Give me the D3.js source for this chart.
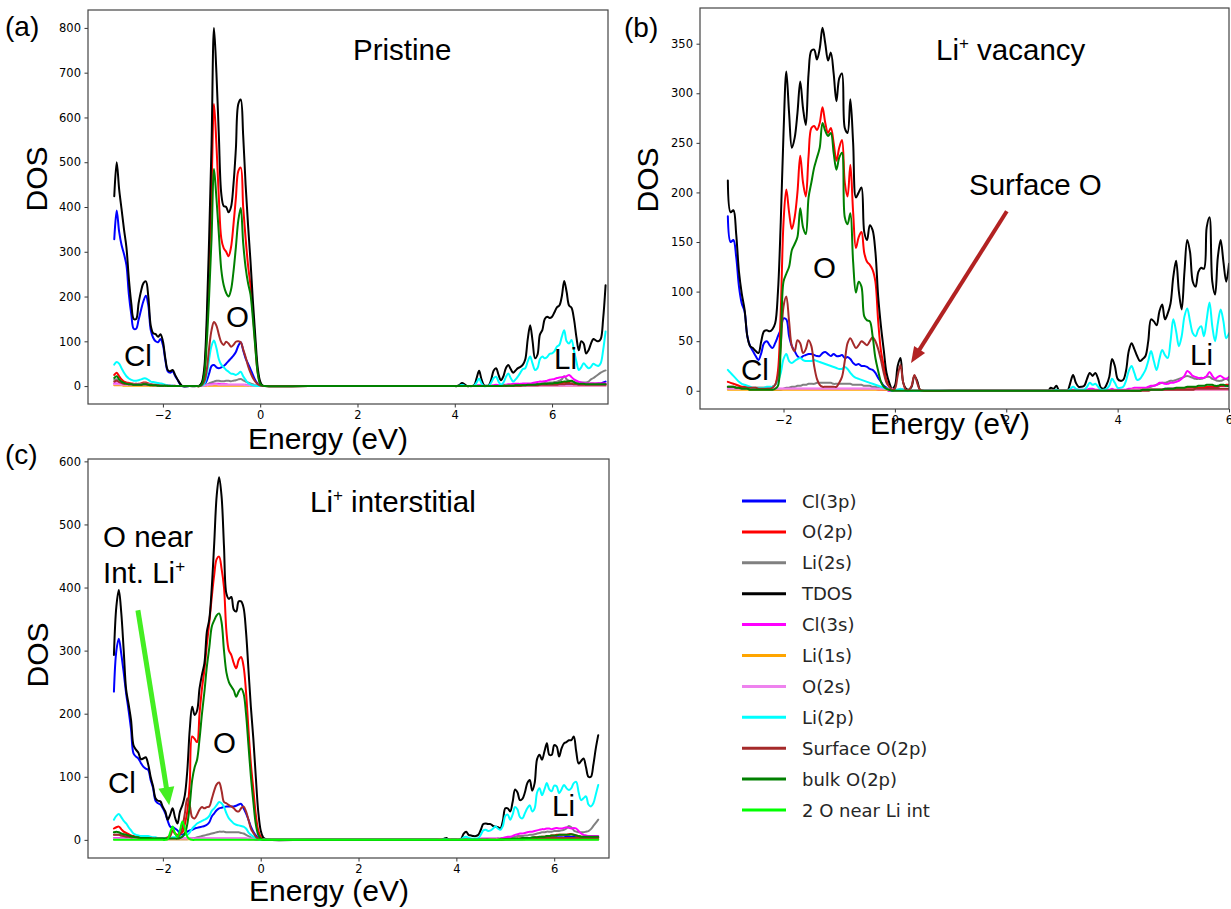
<!DOCTYPE html>
<html><head><meta charset="utf-8">
<script src="https://cdn.jsdelivr.net/npm/d3@7"></script>
<style>body{margin:0;background:#fff}svg{display:block}</style>
</head><body>
<svg id="chart" width="1231" height="909"></svg>
<script>
// ---------------- legend / series ----------------
const seriesNames = ["Cl(3p)","O(2p)","Li(2s)","TDOS","Cl(3s)","Li(1s)","O(2s)","Li(2p)","Surface O(2p)","bulk O(2p)","2 O near Li int"];
const seriesColors = ["#0000ff","#ff0000","#808080","#000000","#ff00ff","#ffa500","#ee82ee","#00ffff","#a52a2a","#008000","#00ff00"];
const xTickValues = [-2,0,2,4,6];
const yTicksA = [0,100,200,300,400,500,600,700,800];
const yTicksB = [0,50,100,150,200,250,300,350];
const yTicksC = [0,100,200,300,400,500,600];

// ---------------- panel (a) Pristine ----------------
const energyA = [-3,-2.95,-2.9,-2.85,-2.8,-2.75,-2.7,-2.65,-2.6,-2.55,-2.5,-2.45,-2.4,-2.35,-2.3,-2.25,-2.2,-2.15,-2.1,-2.05,-2,-1.95,-1.9,-1.85,-1.8,-1.75,-1.7,-1.65,-1.6,
-1.45,
-1.3,-1.25,-1.2,-1.15,-1.1,-1.05,-1,-0.95,-0.9,-0.85,-0.8,-0.75,-0.7,-0.65,-0.6,-0.55,-0.5,-0.45,-0.4,-0.35,-0.3,-0.25,-0.2,-0.15,-0.1,-0.05,0,0.05,0.1,
1,2,3,
4,4.05,4.1,4.15,4.2,4.25,4.3,4.35,4.4,4.45,4.5,4.55,4.6,4.65,4.7,4.75,4.8,4.85,4.9,4.95,
5,5.05,5.1,5.15,5.2,5.25,5.3,5.35,5.4,5.45,5.5,5.55,5.6,5.65,5.7,5.75,5.8,5.85,5.9,5.95,
6,6.05,6.1,6.15,6.2,6.25,6.3,6.35,6.4,6.45,6.5,6.55,6.6,6.65,6.7,6.75,6.8,6.85,6.9,6.95,7,7.05,7.1];
const cl3pA = [328,392,345,315,295,270,205,160,128,128,148,170,190,202,180,125,108,100,98,105,92,58,33,30,33,23,14,5,0,
0,
0,0,1,3,12,28,45,47,42,40,42,45,50,56,62,68,76,90,98,80,62,50,38,25,13,5,1,0,0,
0,0,0,
0,0,0,0,0,0,0,0,0,0,0,0,0,0,0,0,0,0,0,0,
0,0,0,0,0,1,1,1,1,1,1,1,1,1,1,2,2,2,2,2,
2,2,2,2,2,3,3,3,3,3,3,3,3,3,4,4,5,5,5,6,6,8,10];
const o2pA = [25,30,22,15,10,8,7,6,5,5,5,6,8,8,6,4,3,3,3,2,2,1,1,1,0,0,0,0,0,
0,
0,0,5,30,120,270,440,630,540,420,330,308,300,290,310,360,420,480,488,400,330,270,225,165,90,30,6,1,0,
0,0,0,
0,0,0,0,0,0,0,0,0,0,0,0,0,0,0,0,0,0,0,0,
1,1,1,1,1,2,2,2,2,2,3,3,3,3,3,4,4,4,5,5,
6,6,6,7,7,8,8,9,10,8,6,5,5,5,5,5,5,5,5,5,5,5,5];
const li2sA = [14,15,11,8,6,5,5,4,4,4,4,5,6,6,5,4,3,3,3,2,2,2,1,1,1,1,0,0,0,
0,
0,0,1,2,3,6,8,10,12,12,11,11,12,12,11,12,13,15,16,13,10,8,6,4,2,1,0,0,0,
0,0,0,
0,0,0,0,0,0,0,0,0,1,1,1,0,0,0,1,1,1,1,1,
2,2,2,2,2,3,3,3,3,4,4,4,4,5,5,6,6,7,7,8,
8,9,10,12,15,22,15,12,10,9,8,8,8,8,8,10,15,18,22,26,30,33,35];
const tdosA = [424,500,440,395,350,310,240,185,150,150,185,212,230,234,200,135,118,116,110,116,100,62,36,33,36,25,15,6,0,
0,
0,1,8,40,150,330,540,800,700,560,430,402,400,388,400,450,530,630,640,560,450,360,280,190,110,40,10,1,0,
0,0,0,
0,0,3,7,4,0,0,0,2,18,34,15,2,1,2,15,35,40,25,13,
22,40,47,38,30,35,40,43,48,60,105,136,100,62,70,115,125,150,155,152,
155,165,176,180,200,235,210,180,175,150,110,80,100,95,73,80,95,105,102,100,105,150,225];
const cl3sA = [6,6,5,5,4,4,4,3,3,3,3,3,3,3,3,2,2,2,2,1,1,1,1,1,0,0,0,0,0,
0,
0,0,0,1,2,3,4,5,5,5,4,4,4,3,3,3,3,3,3,3,3,2,2,1,1,0,0,0,0,
0,0,0,
0,0,0,0,0,0,0,0,0,1,2,1,0,0,0,1,2,3,2,2,
3,3,4,4,5,5,5,5,6,6,6,6,7,8,9,10,10,11,12,14,
15,16,18,19,20,21,22,25,20,15,12,10,8,7,6,6,6,6,6,6,6,6,6];
const li1sA = [2,2,2,2,1,1,1,1,1,1,1,1,1,1,1,1,1,1,1,1,1,1,0,0,0,0,0,0,0,
0,
0,0,0,0,1,1,1,1,1,1,1,1,1,1,1,1,1,1,1,1,1,1,1,0,0,0,0,0,0,
0,0,0,
0,0,0,0,0,0,0,0,0,0,0,0,0,0,0,0,0,0,0,0,
1,1,1,1,1,1,1,1,1,1,1,1,1,1,1,1,1,1,1,1,
1,1,1,1,1,1,1,1,1,1,1,1,1,1,1,1,1,1,1,1,1,1,1];
const o2sA = [4,4,4,3,3,3,3,3,3,3,3,3,3,3,3,3,2,2,2,2,2,2,1,1,1,1,0,0,0,
0,
0,0,0,1,2,3,3,4,4,3,3,3,3,3,3,3,3,3,3,3,2,2,2,1,1,0,0,0,0,
0,0,0,
0,0,0,0,0,0,0,0,0,0,0,0,0,0,0,0,0,0,0,0,
1,1,1,1,1,1,1,1,1,1,1,1,1,1,1,1,1,1,1,1,
1,1,1,1,1,1,1,1,1,1,1,1,1,1,1,1,1,1,1,1,1,1,1];
const li2pA = [48,54,50,40,30,22,17,14,12,12,13,15,17,17,14,10,9,8,7,6,5,3,2,1,1,0,0,0,0,
0,
0,0,1,5,25,60,90,102,85,60,48,42,36,32,28,27,25,28,32,22,14,7,4,2,1,0,0,0,0,
0,0,0,
0,0,1,3,1,0,0,0,1,8,17,6,0,0,1,8,18,21,10,3,
8,20,28,18,10,15,22,30,38,40,55,66,50,36,40,60,66,62,65,72,
73,78,88,92,110,125,100,95,103,80,55,36,42,51,45,40,43,50,47,45,51,80,122];
const surfA = [10,12,9,7,5,5,4,4,3,3,3,3,4,4,3,3,2,2,2,1,1,1,1,0,0,0,0,0,0,
0,
0,0,2,10,35,85,125,143,135,115,98,92,99,95,88,92,99,100,98,82,65,45,30,18,10,4,1,0,0,
0,0,0,
0,0,0,0,0,0,0,0,0,0,0,0,0,0,0,0,0,0,0,0,
0,0,1,1,1,1,1,1,2,2,2,2,2,2,2,3,3,3,3,3,
3,3,3,4,4,4,5,5,5,4,4,3,3,3,3,3,3,3,3,3,3,3,3];
const bulkA = [18,22,15,10,7,5,4,4,3,3,3,3,4,4,3,2,2,2,1,1,1,1,0,0,0,0,0,0,0,
0,
0,0,4,25,95,200,330,485,420,340,260,225,208,200,215,255,310,370,398,320,265,230,205,150,85,28,5,1,0,
0,0,0,
0,0,0,0,0,0,0,0,0,0,0,0,0,0,0,0,0,0,0,0,
1,1,1,1,1,2,2,2,2,2,3,3,3,3,4,4,5,5,5,6,
6,7,7,8,9,10,10,11,12,9,6,5,5,5,4,4,4,4,4,4,4,4,4];

// ---------------- panel (b) Li+ vacancy ----------------
const energyB = [-3,-2.95,-2.9,-2.85,-2.8,-2.75,-2.7,-2.65,-2.6,-2.55,-2.5,-2.45,-2.4,-2.35,-2.3,-2.25,-2.2,-2.15,-2.1,-2.05,
-2,-1.95,-1.9,-1.85,-1.8,-1.75,-1.7,-1.65,-1.6,-1.55,-1.5,-1.45,-1.4,-1.35,-1.3,-1.25,-1.2,-1.15,-1.1,-1.05,
-1,-0.95,-0.9,-0.85,-0.8,-0.75,-0.7,-0.65,-0.6,-0.55,-0.5,-0.45,-0.4,-0.35,-0.3,-0.25,-0.2,-0.15,-0.1,-0.05,
0,0.05,0.1,0.15,0.2,0.25,0.3,0.35,0.4,0.45,0.5,
1,2,2.5,2.7,
2.75,2.8,2.85,2.9,2.95,3,3.05,3.1,3.15,3.2,
3.25,3.3,3.35,3.4,3.45,3.5,3.55,3.6,3.65,3.7,
3.75,3.8,3.85,3.9,3.95,4,4.05,4.1,4.15,4.2,
4.25,4.3,4.35,4.4,4.45,4.5,4.55,4.6,4.65,4.7,
4.75,4.8,4.85,4.9,4.95,5,5.05,5.1,5.15,5.2,
5.25,5.3,5.35,5.4,5.45,5.5,5.55,5.6,5.65,5.7,
5.75,5.8,5.85,5.9,5.95,6];
const cl3pB = [176,150,152,135,105,88,80,55,45,40,35,31,38,48,50,46,43,48,55,62,
73,72,55,45,40,35,33,35,36,37,37,36,35,35,38,39,37,35,37,35,
35,36,33,34,32,28,26,27,25,25,24,22,21,18,13,9,5,3,1,0,
0,1,1,1,0,0,0,0,0,0,0,
0,0,0,0,
0,0,0,0,0,0,0,0,0,0, 0,0,0,0,0,0,0,0,0,0, 0,0,0,0,0,0,0,0,0,0,
0,0,0,1,1,1,1,1,1,1, 1,1,2,2,2,2,2,2,2,2, 3,3,3,3,3,3,3,3,4,4, 4,4,5,5,5,5];
const o2pB = [9,8,7,6,5,4,4,4,3,3,3,3,3,3,3,3,4,6,20,80,
170,203,180,163,175,200,237,210,196,237,265,267,263,270,286,270,260,265,250,232,
245,253,210,196,228,180,144,155,160,139,130,127,122,110,70,40,25,10,4,1,
0,0,1,1,0,0,0,0,0,0,0,
0,0,0,0,
0,0,0,0,0,0,0,0,0,0, 0,0,0,0,0,0,0,0,0,0, 0,0,0,0,0,0,0,0,0,0,
0,0,0,0,1,1,1,1,1,1, 1,1,1,2,2,2,2,2,2,2, 3,3,3,3,3,3,3,4,4,4, 4,4,5,5,6,6];
const li2sB = [3,3,2,2,2,2,2,2,1,1,1,1,1,1,1,1,1,1,1,1,
2,3,3,4,4,5,5,6,6,7,7,7,8,8,8,8,8,8,7,7,
7,7,7,7,7,6,6,6,6,5,5,5,4,4,3,2,1,1,0,0,
0,0,0,0,0,0,0,0,0,0,0,
0,0,0,0,
0,0,0,0,0,0,0,0,0,0, 0,0,0,0,0,0,0,0,0,0, 0,0,0,0,0,0,0,0,0,0,
1,1,1,2,2,2,3,4,5,6, 7,8,8,9,10,10,11,12,13,14, 15,14,13,12,12,12,13,14,14,12, 11,10,10,11,12,10];
const tdosB = [212,180,182,158,120,98,82,55,45,43,40,38,50,60,61,60,62,68,100,170,
260,322,280,245,255,280,312,285,268,320,343,344,334,345,366,350,333,341,320,292,
315,320,265,260,294,250,195,200,205,160,152,167,162,140,95,65,41,18,8,2,
5,25,33,8,2,1,4,15,10,1,0,
0,0,0,0,
0,3,2,5,0,0,0,0,8,16, 8,4,4,5,12,18,15,18,12,3, 2,6,14,32,25,12,10,11,20,40,
48,42,35,30,32,35,50,72,70,66, 80,87,72,78,88,115,131,100,82,120, 152,140,110,105,120,124,123,165,175,110, 97,135,152,130,110,128];
const cl3sB = [3,3,3,3,2,2,2,2,2,2,2,2,2,2,2,2,2,2,2,2,
2,2,2,2,2,2,2,2,2,2,2,2,2,2,2,2,2,2,2,2,
2,2,2,2,2,2,2,2,2,2,2,2,2,2,1,1,1,1,0,0,
0,0,0,0,0,0,0,0,0,0,0,
0,0,0,0,
0,0,0,0,0,0,0,0,1,1, 1,1,1,1,1,2,2,1,1,0, 0,1,1,2,1,1,1,1,1,2,
2,3,3,3,3,3,4,5,5,6, 8,8,7,7,8,8,9,10,12,15, 20,18,15,14,13,13,13,15,19,15, 12,14,15,13,12,14];
const li1sB = [1,1,1,1,1,1,1,1,1,1,1,1,1,1,1,1,1,1,1,1,
1,1,1,1,1,1,1,1,1,1,1,1,1,1,1,1,1,1,1,1,
1,1,1,1,1,1,1,1,1,1,1,1,1,1,1,1,1,1,1,1,
0,0,0,0,0,0,0,0,0,0,0,
0,0,0,0,
0,0,0,0,0,0,0,0,0,0, 0,0,0,0,0,0,0,0,0,0, 0,0,0,0,0,0,0,0,0,0,
1,1,1,1,1,1,1,1,1,1, 1,1,1,1,1,1,1,1,1,1, 1,1,1,1,1,1,1,1,1,1, 1,1,1,1,1,1];
const o2sB = [2,2,2,2,2,2,2,2,2,2,2,2,2,2,2,2,2,2,2,2,
2,2,2,2,2,2,2,2,2,2,2,2,2,2,2,2,2,2,2,2,
2,2,2,2,2,2,2,2,2,2,2,2,2,2,2,2,2,2,2,2,
0,0,0,0,0,0,0,0,0,0,0,
0,0,0,0,
0,0,0,0,0,0,0,0,0,0, 0,0,0,0,0,0,0,0,0,0, 0,0,0,0,0,0,0,0,0,0,
1,1,1,1,1,1,1,1,1,1, 1,1,1,1,1,1,1,1,1,1, 1,1,1,1,1,1,1,1,1,1, 1,1,1,1,1,1];
const li2pB = [21,18,15,12,9,7,6,5,4,3,3,3,3,3,4,4,4,6,10,18,
32,37,30,28,30,32,33,31,30,30,30,31,30,29,28,27,26,25,24,23,
22,22,24,22,18,15,13,12,11,10,9,8,7,6,5,4,3,2,1,0,
1,1,2,1,0,0,0,0,0,0,0,
0,0,0,0,
0,0,0,1,0,0,0,0,2,4, 2,1,1,1,4,8,6,7,4,1, 1,2,5,12,8,3,3,4,10,20,
25,18,11,12,16,21,30,40,30,21, 32,41,36,33,50,72,60,45,55,75, 83,70,58,55,62,65,55,72,89,65, 50,68,82,70,53,58];
const surfB = [4,4,4,3,3,3,3,3,3,3,3,2,2,2,2,2,3,6,15,45,
85,95,70,45,40,51,48,38,42,51,45,25,12,6,4,4,4,4,4,4,
8,14,30,48,53,48,43,46,50,48,46,50,54,50,42,31,18,8,4,1,
2,15,26,8,1,1,5,16,8,1,0,
0,0,0,0,
0,0,0,0,0,0,0,0,0,0, 0,0,0,0,0,0,0,0,0,0, 0,0,0,0,0,0,0,0,0,0,
0,0,0,0,0,0,0,1,1,1, 1,1,1,1,1,1,1,1,1,1, 1,1,1,2,2,2,2,2,2,2, 2,2,2,2,2,2];
const bulkB = [4,4,4,3,3,2,2,2,1,1,1,1,1,1,1,1,1,2,5,45,
110,118,125,142,148,155,184,165,158,195,210,225,235,245,270,262,257,260,240,223,
235,240,175,168,179,130,99,110,105,75,71,70,55,33,20,9,4,2,1,0,
0,0,0,0,0,0,0,0,0,0,0,
0,0,0,0,
0,0,0,0,0,0,0,0,0,0, 0,0,0,0,0,0,0,0,0,0, 0,0,0,0,0,0,0,0,0,0,
0,0,0,0,1,1,1,1,1,1, 1,1,2,2,2,2,3,3,3,3, 4,4,4,4,5,5,5,6,6,6, 5,5,6,6,5,5];

// ---------------- panel (c) Li+ interstitial ----------------
const energyC = [-3,-2.95,-2.9,-2.85,-2.8,-2.75,-2.7,-2.65,-2.6,-2.55,-2.5,-2.45,-2.4,-2.35,-2.3,-2.25,-2.2,-2.15,-2.1,-2.05,
-2,-1.95,-1.9,-1.85,-1.8,-1.75,-1.7,-1.65,-1.6,-1.55,-1.5,-1.45,-1.4,-1.35,-1.3,-1.25,-1.2,-1.15,-1.1,-1.05,
-1,-0.95,-0.9,-0.85,-0.8,-0.75,-0.7,-0.65,-0.6,-0.55,-0.5,-0.45,-0.4,-0.35,-0.3,-0.25,-0.2,-0.15,-0.1,-0.05,
0,0.05,0.1,0.15,
1,2,3,3.6,
3.7,3.75,3.8,3.85,3.9,3.95,4,4.05,4.1,4.15,
4.2,4.25,4.3,4.35,4.4,4.45,4.5,4.55,4.6,4.65,
4.7,4.75,4.8,4.85,4.9,4.95,5,5.05,5.1,5.15,
5.2,5.25,5.3,5.35,5.4,5.45,5.5,5.55,5.6,5.65,
5.7,5.75,5.8,5.85,5.9,5.95,6,6.05,6.1,6.15,
6.2,6.25,6.3,6.35,6.4,6.45,6.5,6.55,6.6,6.65,
6.7,6.75,6.8,6.85,6.9];
const cl3pC = [235,300,319,295,265,232,205,175,137,132,129,122,116,113,111,95,82,62,58,56,
50,42,30,21,20,18,15,10,8,10,13,15,16,18,19,20,21,22,24,28,
37,42,47,50,51,52,53,53,53,53,54,56,57,50,42,32,21,13,7,3,
1,0,0,0,
0,0,0,0,
0,0,0,0,0,0,0,0,0,0, 0,0,0,0,0,0,0,0,0,0,
0,0,0,0,0,1,1,1,1,1, 1,1,1,1,2,2,2,2,2,2, 3,3,3,3,4,4,4,4,4,4, 4,5,5,5,5,4,4,4,4,4, 4,4,4,4,4];
const o2pC = [18,20,21,17,13,11,9,7,6,5,5,5,4,4,4,3,3,3,3,3,
3,3,4,8,15,10,8,10,12,25,45,90,164,160,155,200,240,270,310,345,
385,420,445,449,430,400,330,300,293,280,272,285,290,275,235,175,120,80,40,15,
5,1,0,0,
0,0,0,0,
0,0,0,0,0,0,0,0,0,0, 0,0,0,0,0,0,0,0,0,0,
0,0,0,0,0,1,1,1,1,1, 1,2,2,2,2,3,3,3,4,4, 4,5,5,6,6,7,7,8,8,8, 8,8,9,9,8,7,6,5,5,4, 4,4,4,4,4];
const li2sC = [8,8,8,7,6,5,5,4,4,4,3,3,3,3,3,2,2,2,2,2,
1,1,1,1,1,1,1,1,1,1,1,2,2,3,4,5,6,7,8,9,
10,11,12,13,13,13,12,12,12,12,12,12,11,10,8,6,4,2,1,0,
0,0,0,0,
0,0,0,0,
0,0,0,0,0,0,0,0,0,0, 0,0,0,0,0,0,1,1,1,1,
1,1,1,2,2,3,3,4,4,5, 5,6,6,6,7,7,8,8,9,10, 11,12,12,13,13,13,14,14,14,15, 16,18,22,20,15,13,12,12,12,13, 14,17,22,27,32];
const tdosC = [293,370,396,360,300,238,215,190,150,143,138,128,129,131,120,100,85,66,62,61,
52,45,32,40,50,35,26,45,55,71,110,175,211,198,205,240,262,280,330,350,
400,470,545,575,545,465,390,382,385,365,362,378,378,368,330,270,210,160,100,45,
15,4,1,0,
0,0,0,0,
0,2,3,0,0,0,0,0,2,10, 13,8,7,6,6,8,16,25,26,25,
25,22,21,20,18,30,50,50,45,60, 80,75,63,65,75,90,95,78,90,128, 135,127,140,153,135,135,150,148,132,145, 153,155,158,158,164,140,121,125,129,115, 100,100,119,145,166];
const cl3sC = [3,3,3,3,3,3,3,3,2,2,2,2,2,2,2,2,2,2,2,2,
2,2,2,2,2,2,2,2,2,2,2,2,2,2,2,2,2,2,2,2,
2,2,2,2,2,2,2,2,2,2,2,2,2,2,2,1,1,1,0,0,
0,0,0,0,
0,0,0,0,
0,0,0,0,0,0,0,0,0,0, 1,1,1,1,1,1,2,2,2,2,
2,2,2,2,2,3,4,5,5,6, 8,9,10,10,11,12,13,13,14,15, 16,17,17,18,18,17,18,19,18,18, 19,20,19,18,19,18,14,10,8,7, 6,6,6,6,6];
const li1sC = [1,1,1,1,1,1,1,1,1,1,1,1,1,1,1,1,1,1,1,1,
1,1,1,1,1,1,1,1,1,1,1,1,1,1,1,1,1,1,1,1,
1,1,1,1,1,1,1,1,1,1,1,1,1,1,1,1,1,1,1,1,
0,0,0,0,
0,0,0,0,
0,0,0,0,0,0,0,0,0,0, 0,0,0,0,0,0,0,0,0,0,
1,1,1,1,1,1,1,1,1,1, 1,1,1,1,1,1,1,1,1,1, 1,1,1,1,1,1,1,1,1,1, 1,1,1,1,1,1,1,1,1,1, 1,1,1,1,1];
const o2sC = [2,2,2,2,2,2,2,2,2,2,2,2,2,2,2,2,2,2,2,2,
2,2,2,2,2,2,2,2,2,2,2,2,2,2,2,2,2,2,2,2,
2,2,2,2,2,2,2,2,2,2,2,2,2,2,2,2,2,2,2,2,
0,0,0,0,
0,0,0,0,
0,0,0,0,0,0,0,0,0,0, 0,0,0,0,0,0,0,0,0,0,
1,1,1,1,1,1,1,1,1,1, 1,1,1,1,1,1,1,1,1,1, 1,1,1,1,1,1,1,1,1,1, 1,1,1,1,1,1,1,1,1,1, 1,1,1,1,1];
const li2pC = [32,38,41,36,30,26,20,15,10,8,7,6,6,6,6,5,4,4,3,3,
3,3,3,3,4,4,5,5,6,8,8,12,18,22,26,28,30,32,34,38,
46,50,55,60,58,52,42,34,30,26,24,23,22,21,18,12,8,5,3,1,
0,0,0,0,
0,0,0,0,
0,1,1,0,0,0,0,0,1,4, 5,3,2,2,2,3,8,15,16,14,
15,18,21,18,16,22,38,40,32,40, 52,48,36,34,42,50,55,45,50,75, 82,71,80,90,80,77,86,85,74,80, 87,82,79,82,90,92,75,63,66,69, 56,53,58,72,87];
const surfC = [8,8,8,7,6,5,5,4,4,4,3,3,3,3,3,3,2,2,2,2,
2,2,3,6,15,10,5,8,20,42,66,55,36,34,40,48,52,50,52,53,
65,78,88,91,78,60,58,55,53,50,46,45,50,53,45,32,18,11,5,2,
1,0,0,0,
0,0,0,0,
0,0,0,0,0,0,0,0,0,0, 0,0,0,0,0,0,0,0,0,0,
0,0,0,0,0,0,1,1,1,1, 1,1,1,1,1,2,2,2,2,2, 2,2,2,3,3,3,3,3,3,3, 3,3,3,3,3,3,3,3,3,3, 3,3,3,3,3];
const bulkC = [12,13,12,10,9,8,7,6,5,4,4,3,3,3,3,2,2,2,2,2,
2,2,2,2,2,2,2,3,5,10,25,55,95,115,127,160,200,235,275,305,
338,348,356,359,345,300,265,250,243,237,227,235,240,232,200,150,100,60,25,8,
2,0,0,0,
0,0,0,0,
0,0,0,0,0,0,0,0,0,0, 0,0,0,0,0,0,0,0,0,0,
0,0,0,0,1,1,1,1,1,2, 2,2,2,3,3,3,3,4,4,4, 5,5,5,6,6,7,7,7,8,8, 8,8,8,9,8,7,6,5,5,5, 5,5,5,5,5];
const nearLiC = [0,0,0,0,0,0,0,0,0,0,0,0,0,0,0,0,0,0,0,0,
0,0,1,12,21,10,5,15,29,18,5,1,0,0,0,0,0,0,0,0,
0,0,0,0,0,0,0,0,0,0,0,0,0,0,0,0,0,0,0,0,
0,0,0,0,
0,0,0,0,
0,0,0,0,0,0,0,0,0,0, 0,0,0,0,0,0,0,0,0,0,
0,0,0,0,0,0,0,0,0,0, 0,0,0,0,0,0,0,0,0,0, 0,0,0,0,0,0,0,0,0,0, 0,0,0,0,0,0,0,0,0,0, 0,0,0,0,0];

// ---------------- build ----------------
const svg = d3.select("#chart");
const SANS = "'Liberation Sans', Arial, Helvetica, sans-serif";
const DJ = "'DejaVu Sans', sans-serif";

const panels = [
  {id:"a", box:[88,10,608,404], xDom:[-3.54,7.15], yDom:[-40,840], yTicks:yTicksA, energy:energyA,
   values:[cl3pA,o2pA,li2sA,tdosA,cl3sA,li1sA,o2sA,li2pA,surfA,bulkA,null],
   xlabel:[328,449], ylabel:[36,179]},
  {id:"b", box:[700,8,1229,409], xDom:[-3.5,6.0], yDom:[-18.4,386], yTicks:yTicksB, energy:energyB,
   values:[cl3pB,o2pB,li2sB,tdosB,cl3sB,li1sB,o2sB,li2pB,surfB,bulkB,null],
   xlabel:[950,434], ylabel:[647,180]},
  {id:"c", box:[88,459,609,858], xDom:[-3.53,7.12], yDom:[-28.75,603.75], yTicks:yTicksC, energy:energyC,
   values:[cl3pC,o2pC,li2sC,tdosC,cl3sC,li1sC,o2sC,li2pC,surfC,bulkC,nearLiC],
   xlabel:[329,901], ylabel:[37,655]}
];

const defs = svg.append("defs");
const scales = {};

panels.forEach(p => {
  const [x0,y0,x1,y1] = p.box;
  const x = d3.scaleLinear().domain(p.xDom).range([x0,x1]);
  const y = d3.scaleLinear().domain(p.yDom).range([y1,y0]);
  scales[p.id] = {x,y};
  defs.append("clipPath").attr("id","clip-"+p.id)
    .append("rect").attr("x",x0).attr("y",y0).attr("width",x1-x0).attr("height",y1-y0);
  const g = svg.append("g");
  const lg = g.append("g").attr("clip-path",`url(#clip-${p.id})`);
  const line = d3.line().x(d=>x(d[0])).y(d=>y(d[1])).curve(d3.curveCatmullRom.alpha(0.5));
  p.values.forEach((vals,i) => {
    if(!vals) return;
    if(vals.length !== p.energy.length) console.error("length mismatch", p.id, seriesNames[i], vals.length, p.energy.length);
    const pts = p.energy.map((e,j)=>[e, vals[j]]);
    lg.append("path").attr("d", line(pts)).attr("fill","none")
      .attr("stroke", seriesColors[i]).attr("stroke-width",2)
      .attr("stroke-linejoin","round").attr("stroke-linecap","round");
  });
  const ax = g.append("g").attr("transform",`translate(0,${y1})`)
    .call(d3.axisBottom(x).tickValues(xTickValues).tickSize(3.5).tickPadding(3.5).tickSizeOuter(0));
  const ay = g.append("g").attr("transform",`translate(${x0},0)`)
    .call(d3.axisLeft(y).tickValues(p.yTicks).tickSize(3.5).tickPadding(3.5).tickSizeOuter(0));
  [ax,ay].forEach(a => {
    a.select(".domain").remove();
    a.selectAll("text").attr("font-family",DJ).attr("font-size",11.5).attr("fill","#000");
    a.selectAll("line").attr("stroke","#000").attr("stroke-width",0.8);
  });
  g.append("rect").attr("x",x0).attr("y",y0).attr("width",x1-x0).attr("height",y1-y0)
    .attr("fill","none").attr("stroke","#444").attr("stroke-width",1.2);
  g.append("text").attr("x",p.xlabel[0]).attr("y",p.xlabel[1]).attr("text-anchor","middle")
    .attr("font-family",SANS).attr("font-size",30).text("Energy (eV)");
  g.append("text").attr("transform",`translate(${p.ylabel[0]},${p.ylabel[1]}) rotate(-90)`)
    .attr("text-anchor","middle").attr("dominant-baseline","central")
    .attr("font-family",SANS).attr("font-size",30).text("DOS");
});

// annotations
function label(x,y,txt,size){
  return svg.append("text").attr("x",x).attr("y",y).attr("font-family",SANS)
    .attr("font-size",size||29.5).attr("fill","#000").text(txt);
}
function supLabel(x,y,before,after){
  const t = svg.append("text").attr("x",x).attr("y",y).attr("font-family",SANS).attr("font-size",29.5);
  t.append("tspan").text(before);
  t.append("tspan").attr("font-size",17).attr("dy",-11).text("+");
  t.append("tspan").attr("dy",11).text(after);
  return t;
}
label(5,36,"(a)",28); label(624,37,"(b)",28); label(5,464,"(c)",28);
label(353,60,"Pristine");
supLabel(936,60,"Li"," vacancy");
label(969,195,"Surface O");
supLabel(310,512,"Li"," interstitial");
label(103,547,"O near");
supLabel(103,583,"Int. Li","");
label(226,327,"O"); label(124,366,"Cl"); label(554,369,"Li");
label(813,278,"O"); label(741,380,"Cl"); label(1190,365,"Li");
label(213,753,"O"); label(108,793,"Cl"); label(552,816,"Li");

// arrows (positions given in data coordinates of each panel)
function arrow(sc, from, to, color, w, headL, headW){
  const x1 = sc.x(from[0]), y1 = sc.y(from[1]), x2 = sc.x(to[0]), y2 = sc.y(to[1]);
  const dx = x2-x1, dy = y2-y1, L = Math.hypot(dx,dy), ux = dx/L, uy = dy/L;
  const bx = x2 - ux*headL, by = y2 - uy*headL;
  svg.append("line").attr("x1",x1).attr("y1",y1).attr("x2",bx+ux*2).attr("y2",by+uy*2)
    .attr("stroke",color).attr("stroke-width",w);
  svg.append("polygon").attr("points",[[x2,y2],[bx-uy*headW,by+ux*headW],[bx+uy*headW,by-ux*headW]].map(d=>d.join(",")).join(" "))
    .attr("fill",color);
}
arrow(scales.b, [2.01,181], [0.29,28], "#b22222", 4, 16, 6.5);
arrow(scales.c, [-2.51,364], [-1.87,55], "#44ee22", 5, 18, 8);

// legend
const legY0 = 501, legDY = 30.9;
seriesNames.forEach((n,i) => {
  const yy = legY0 + i*legDY;
  svg.append("line").attr("x1",742).attr("x2",786).attr("y1",yy).attr("y2",yy)
    .attr("stroke",seriesColors[i]).attr("stroke-width",3);
  svg.append("text").attr("x",802).attr("y",yy).attr("dominant-baseline","central")
    .attr("font-family",DJ).attr("font-size",18).attr("fill","#262626").text(n);
});
</script>
</body></html>
